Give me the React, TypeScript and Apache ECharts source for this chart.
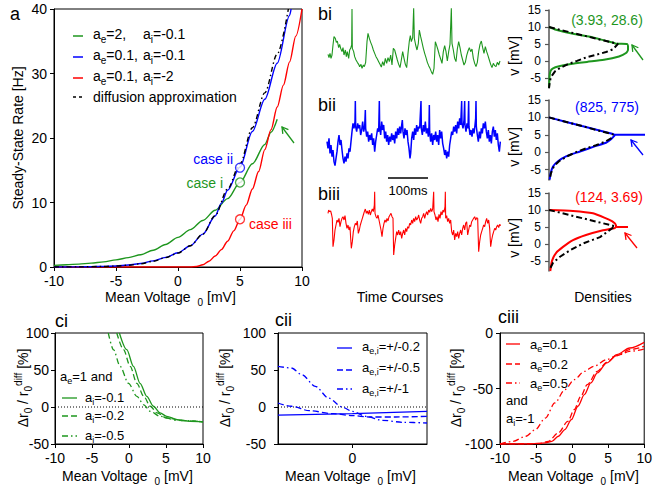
import React, { useEffect, useRef } from "react";
import * as echarts from "echarts";

const FONT = '"Liberation Sans", Arial, Helvetica, sans-serif';
const GREEN = "#1e961e";
const BLUE = "#0000ff";
const RED = "#ff0000";
const BLACK = "#000000";

// ---------- Panel a: steady-state rate [Hz] vs mean voltage [mV] ----------
const rateGreen = [[-10,0.25],[-9,0.35],[-8,0.45],[-7,0.6],[-6,0.8],[-5,1.1],[-4,1.45],[-3,1.9],[-2,2.6],[-1,3.5],[0,4.6],[1,5.8],[2,7.2],[3,8.8],[4,10.6],[5,13.1],[6,16.0],[7,19.0],[7.5,20.9],[8,22.9]];
const rateBlue = [[-10,0],[-9,0.01],[-8,0.02],[-7,0.05],[-6,0.09],[-5,0.16],[-4,0.3],[-3,0.55],[-2,0.95],[-1,1.5],[0,2.2],[1,3.3],[2,5.1],[3,7.9],[3.5,9.9],[4,11.9],[5,15.5],[6,21.0],[7,26.0],[8,31.6],[9,39.0],[9.12,40]];
const rateDiff = [[-10,0],[-8,0.02],[-6,0.08],[-5,0.15],[-4,0.28],[-3,0.5],[-2,0.9],[-1,1.45],[0,2.15],[1,3.3],[2,5.1],[3,8.0],[4,12.1],[5,16.0],[6,21.6],[7,27.0],[8,33.0],[8.9,40]];
const rateRed = [[-10,0],[0,0],[1,0],[1.5,0.08],[2,0.35],[2.5,0.9],[3,1.7],[3.5,2.7],[4,4.0],[4.5,5.6],[5,7.4],[5.5,9.6],[6,12.1],[6.5,14.8],[7,18.2],[7.5,21.3],[8,24.8],[8.5,28.2],[9,31.8],[9.5,35.8],[10,40]];
const caseI = [[5, 13.1]];
const caseII = [[5, 15.4]];
const caseIII = [[5, 7.4]];

// ---------- Panel b: time courses (sample positions; y grows downward) ----------
const traceBi = [[18,148],[21,158],[24,145],[27,160],[30,150],[33,120],[36,95],[40,100],[43,112],[46,108],[50,128],[53,118],[56,130],[60,140],[63,128],[66,150],[70,135],[73,155],[76,140],[80,160],[83,135],[86,130],[89,120],[90,12],[91,130],[95,140],[98,155],[102,165],[106,172],[110,178],[113,185],[117,178],[120,190],[124,180],[127,185],[131,172],[135,110],[138,85],[142,100],[146,112],[150,122],[154,135],[158,145],[162,155],[166,162],[170,170],[174,178],[178,186],[182,170],[186,182],[190,160],[194,175],[198,158],[202,170],[206,150],[210,180],[214,130],[218,135],[222,150],[226,165],[230,178],[234,188],[238,165],[242,140],[246,160],[250,178],[254,188],[258,145],[262,108],[265,92],[268,110],[272,98],[275,10],[277,100],[281,120],[285,135],[289,115],[292,75],[296,95],[300,112],[304,130],[308,145],[312,158],[316,172],[320,182],[324,190],[328,200],[332,208],[336,190],[340,110],[344,122],[348,135],[352,150],[356,162],[360,175],[364,140],[368,122],[372,140],[376,168],[380,140],[384,118],[388,10],[390,115],[394,135],[398,160],[402,170],[406,132],[410,110],[414,128],[418,150],[422,165],[426,180],[430,172],[434,152],[438,138],[442,128],[446,140],[450,132],[454,160],[458,175],[462,185],[466,172],[470,140],[474,118],[478,108],[482,128],[486,145],[490,125],[494,140],[498,152],[502,165],[506,178],[510,188],[514,175],[518,182],[522,185],[526,172],[530,180],[534,168]];
const traceBii = [[15,140],[18,160],[21,130],[24,175],[27,150],[30,185],[33,165],[36,200],[39,212],[42,190],[45,170],[48,140],[51,120],[54,150],[57,135],[60,165],[63,190],[66,205],[69,185],[72,200],[75,175],[78,190],[81,160],[84,170],[87,140],[90,110],[93,85],[96,100],[99,80],[100,18],[101,95],[104,110],[107,85],[110,100],[113,90],[116,120],[119,105],[122,80],[125,110],[128,95],[130,45],[131,100],[134,125],[137,110],[140,140],[143,120],[146,135],[149,115],[152,150],[155,130],[158,170],[161,140],[164,120],[167,100],[170,110],[172,18],[173,95],[176,120],[179,80],[182,105],[185,90],[188,130],[191,110],[194,140],[197,120],[200,150],[203,125],[206,140],[209,115],[212,135],[215,120],[218,145],[221,110],[224,130],[227,100],[230,120],[233,95],[236,115],[239,90],[241,75],[243,110],[246,130],[249,100],[252,120],[255,105],[258,140],[261,160],[264,190],[266,175],[269,130],[272,110],[275,135],[278,100],[281,120],[284,90],[287,110],[290,95],[293,100],[297,18],[298,100],[301,120],[304,90],[307,110],[310,80],[313,115],[316,100],[319,125],[321,95],[322,30],[323,110],[326,140],[329,115],[332,150],[335,120],[338,135],[341,110],[344,140],[347,120],[350,150],[353,105],[356,130],[359,110],[362,145],[365,160],[368,180],[371,165],[374,190],[377,170],[380,185],[383,150],[386,130],[389,110],[392,120],[395,95],[398,110],[401,90],[404,115],[407,80],[410,100],[413,70],[416,90],[419,18],[420,85],[423,100],[426,75],[428,18],[429,90],[432,110],[435,85],[438,100],[440,18],[441,95],[444,120],[447,105],[450,125],[453,100],[456,115],[459,90],[461,70],[462,18],[463,95],[466,120],[469,140],[472,110],[475,130],[478,100],[481,115],[484,85],[487,100],[490,80],[493,110],[496,130],[499,105],[502,140],[505,120],[508,145],[511,110],[514,95],[517,125],[520,105],[523,135],[526,115],[529,150],[532,170],[535,140]];
const traceBiii = [[18,85],[20,75],[23,80],[26,78],[29,90],[31,100],[33,185],[36,165],[39,135],[42,120],[45,105],[48,112],[51,100],[54,125],[57,110],[60,100],[63,95],[66,105],[69,92],[72,115],[75,130],[78,120],[81,135],[84,125],[86,160],[88,190],[91,170],[94,140],[97,125],[100,115],[103,120],[106,108],[109,145],[112,135],[115,120],[118,110],[121,100],[124,90],[127,80],[130,72],[133,85],[136,78],[139,88],[142,75],[145,90],[148,80],[151,72],[154,80],[157,60],[158,20],[159,85],[162,95],[165,100],[168,90],[171,105],[174,120],[177,135],[180,155],[183,130],[186,115],[189,105],[192,112],[195,100],[198,108],[201,95],[204,90],[207,85],[210,95],[213,100],[215,210],[218,180],[221,160],[224,140],[227,150],[230,135],[233,150],[236,140],[239,160],[242,145],[245,135],[248,150],[251,130],[254,140],[257,125],[260,130],[263,115],[266,120],[269,105],[272,115],[275,100],[278,110],[281,95],[284,105],[287,100],[290,90],[293,105],[296,115],[299,100],[302,95],[305,85],[308,100],[311,88],[314,80],[317,90],[320,75],[323,82],[326,70],[329,80],[332,72],[335,20],[336,80],[339,90],[342,105],[345,95],[348,110],[351,88],[354,100],[357,80],[360,90],[363,75],[366,82],[369,65],[370,20],[371,100],[374,92],[377,110],[380,100],[383,115],[386,105],[389,140],[392,150],[395,135],[398,165],[401,145],[404,155],[407,140],[410,160],[413,145],[416,135],[419,150],[422,130],[425,120],[428,135],[431,115],[434,110],[437,150],[440,135],[443,120],[446,125],[449,110],[452,105],[455,100],[458,95],[461,105],[464,98],[467,100],[470,200],[473,170],[476,150],[479,140],[482,130],[485,120],[488,125],[491,110],[494,100],[497,115],[500,105],[503,130],[506,185],[509,165],[512,150],[515,140],[518,130],[521,135],[524,125],[527,120],[530,128],[533,118],[536,122]];

// ---------- Panel b: densities [density, v (mV)] ----------
const densBiColor = [[0,10],[7,9.2],[24,8.0],[41,7.1],[57,5.9],[64,5.4],[67,5.05],[78,5.0],[79,4.2],[79,3.3],[77,2.3],[70,1.3],[55,0.3],[38,-0.3],[22,-0.9],[10,-1.6],[4,-2.2],[1.5,-3],[0.6,-4.5],[0,-8]];
const densBiDiff = [[0,10],[13,9],[27,8],[41,7],[55,6],[69,5],[64,3.4],[57,2.6],[47,1.8],[37,1],[28,0],[18,-1.1],[11,-2.1],[6,-3.1],[3.3,-4.2],[1.7,-5],[0.7,-6.4],[0,-8]];
const densBiiColor = [[0,10],[33,7.5],[64,5.2],[66,5],[96,5],[66,5],[65,4.6],[62,3.7],[57,2.7],[47,1.8],[31,0.2],[17,-1.2],[9,-2.6],[4,-4.1],[1.7,-6],[0.7,-7.9]];
const densBiiDiff = [[0,10],[33,7.5],[64,5.1],[62,4],[56,3],[47,2],[36,1],[27,0],[18,-1.2],[10,-2.6],[5,-4],[2,-6],[0.5,-8]];
const densBiiiColor = [[0,10],[24,9.7],[44,9.0],[57,7.5],[64,6.5],[67,5.5],[67,5.0],[79,5.0],[67,5.0],[66,4.7],[54,4],[37,2.6],[24,1.1],[14,-0.9],[7,-2.7],[3,-5],[1.3,-8]];
const densBiiiDiff = [[0,10],[66,5.2],[66,5],[51,2],[34,0.1],[21,-1.9],[11,-3.8],[4,-5.6],[0.7,-7.5]];
const densTicks = [-5, 0, 5, 10, 15];

// ---------- Panel c: relative deviation [%] vs mean voltage [mV] ----------
const ciSolid = [[-1.3,100],[-0.3,77.5],[0.6,55],[1.5,32],[2.4,14.4],[3.3,1],[4.2,-8],[5.1,-12.6],[6.5,-17],[8.3,-19.4],[10,-20]];
const ciDashed = [[-1.65,100],[-0.74,77.5],[0.16,55],[1.06,32],[2.0,14.4],[2.87,1],[3.8,-8],[5.1,-15],[7.4,-18.5],[10,-20]];
const ciDashDot = [[-2.8,100],[-2.1,77.5],[-1.2,55],[-0.07,32],[1.06,14.4],[2,3],[2.9,-6],[4.2,-12.6],[6.5,-18],[10,-20]];
const ciiSolid = [[-5,-11],[0,-9],[5,-6]];
const ciiDashed = [[-5,5.4],[-4.1,1],[-2.9,-5],[-1.3,-9],[0,-11.7],[1.1,-13.5],[2.9,-13.5],[5,-12.6]];
const ciiDashDot = [[-5,55],[-4.1,52.7],[-3.4,43.7],[-2.5,28],[-1.6,12],[-0.7,0],[0,-6],[0.9,-12.6],[2,-18],[3.4,-20.7],[5,-21.6]];
const ciiiSolid = [[-10,-100],[-6,-100],[-3.7,-99],[-2.8,-97.6],[-1.9,-93],[-1,-87],[-0.1,-78],[0.8,-66],[1.7,-55.5],[2.6,-45],[3.5,-36],[4.8,-27],[6.2,-19.5],[8,-13.5],[10,-8.4]];
const ciiiDashed = [[-10,-100],[-4.6,-99.7],[-3.3,-97.6],[-1.9,-90],[-0.6,-79.6],[0.3,-69],[1.2,-57],[2.1,-46.5],[3.5,-34.5],[4.8,-26.4],[6.2,-20.4],[8,-15],[10,-12]];
const ciiiDashDot = [[-10,-100],[-8.2,-97.6],[-6.4,-93],[-5.1,-87],[-3.7,-76.6],[-2.4,-63],[-1,-51],[0.3,-42],[1.7,-34.5],[3,-30],[4.8,-24],[6.2,-20.4],[8,-16.5],[10,-14.4]];
const zeroLineC = [[-10,0],[10,0]];
const zeroLineCii = [[-5,0],[5,0]];

const DASH = [6, 3];
const DASHDOT = [6, 3, 1.5, 3];

function rt(x: number, y: number, text: string, size: number, color: string, align = "left", rot = 0) {
  return {
    type: "text", x, y, rotation: rot, z: 100, silent: true,
    style: {
      text, align, verticalAlign: "middle", fill: color, font: `${size}px ${FONT}`,
      rich: {
        n: { fontSize: size, fontFamily: FONT, fill: color, lineHeight: Math.round(size * 1.4) },
        s: { fontSize: Math.round(size * 0.72), fontFamily: FONT, fill: color, verticalAlign: "bottom" },
        u: { fontSize: Math.round(size * 0.72), fontFamily: FONT, fill: color, verticalAlign: "top" },
        g: { width: 7, fontSize: size, fontFamily: FONT, fill: color },
      },
    },
  };
}

function seg(x1: number, y1: number, x2: number, y2: number, color: string, w = 1.3, dash: any = null) {
  return { type: "line", z: 100, silent: true, shape: { x1, y1, x2, y2 }, style: { stroke: color, lineWidth: w, lineDash: dash } };
}

function arrow(x1: number, y1: number, x2: number, y2: number, color: string) {
  const dx = x2 - x1, dy = y2 - y1, L = Math.hypot(dx, dy);
  const ux = dx / L, uy = dy / L, hl = 6, hw = 3.5;
  const bx = x2 - ux * hl, by = y2 - uy * hl;
  return [
    seg(x1, y1, x2, y2, color, 1.3),
    { type: "polyline", z: 100, silent: true, shape: { points: [[bx - uy * hw, by + ux * hw], [x2, y2], [bx + uy * hw, by - ux * hw]] }, style: { stroke: color, lineWidth: 1.3, fill: "none" } },
  ];
}

const axisCommon = (size: number, margin: number) => ({
  axisLine: { show: true, onZero: false, lineStyle: { color: BLACK, width: 1 } },
  axisTick: { show: true, inside: false, length: 4, lineStyle: { color: BLACK, width: 1 } },
  axisLabel: { color: BLACK, fontSize: size, fontFamily: FONT, margin },
  splitLine: { show: false },
});

export default function App() {
  const ref = useRef<HTMLDivElement>(null);
  useEffect(() => {
    if (!ref.current) return;
    const chart = echarts.init(ref.current, null, { renderer: "svg" });

    const boxed = { show: true, borderColor: BLACK, borderWidth: 1, backgroundColor: "transparent", containLabel: false };
    const grid = [
      { left: 54, top: 9, width: 248, height: 258, ...boxed },
      { left: 322, top: 5, width: 185, height: 72 },
      { left: 322, top: 95, width: 185, height: 75 },
      { left: 322, top: 185, width: 185, height: 80 },
      { left: 549, top: 10, width: 100, height: 78 },
      { left: 549, top: 100, width: 100, height: 80 },
      { left: 549, top: 193, width: 100, height: 78 },
      { left: 55, top: 333, width: 148, height: 111, ...boxed },
      { left: 278, top: 333, width: 149, height: 111, ...boxed },
      { left: 500, top: 333, width: 148, height: 111, ...boxed },
    ];

    const densY = (gi: number) => ({
      gridIndex: gi, type: "value", min: -8, max: 15,
      axisLine: { show: true, onZero: false, lineStyle: { color: "#555", width: 1.5 } },
      axisTick: { show: true, inside: false, length: 4, customValues: densTicks, lineStyle: { color: "#555", width: 1.2 } },
      axisLabel: { color: BLACK, fontSize: 12, fontFamily: FONT, margin: 8, customValues: densTicks },
      splitLine: { show: false },
    });
    const hidden = (gi: number, min: number, max: number, inverse = false) => ({ gridIndex: gi, type: "value", min, max, inverse, show: false });

    const xAxis = [
      { gridIndex: 0, type: "value", min: -10, max: 10, interval: 5, ...axisCommon(14, 7) },
      hidden(1, 0, 555), hidden(2, 0, 555), hidden(3, 0, 555),
      hidden(4, 0, 100), hidden(5, 0, 100), hidden(6, 0, 100),
      { gridIndex: 7, type: "value", min: -10, max: 10, interval: 5, ...axisCommon(14, 7) },
      { gridIndex: 8, type: "value", min: -5, max: 5, ...axisCommon(14, 7),
        axisTick: { show: true, inside: false, length: 4, customValues: [0], lineStyle: { color: BLACK } },
        axisLabel: { color: BLACK, fontSize: 14, fontFamily: FONT, margin: 7, customValues: [0] } },
      { gridIndex: 9, type: "value", min: -10, max: 10, interval: 5, ...axisCommon(14, 7) },
    ];
    const yAxis = [
      { gridIndex: 0, type: "value", min: 0, max: 40, interval: 10, ...axisCommon(14, 7) },
      hidden(1, 0, 216, true), hidden(2, 0, 225, true), hidden(3, 0, 240, true),
      densY(4), densY(5), densY(6),
      { gridIndex: 7, type: "value", min: -50, max: 100, interval: 50, ...axisCommon(14, 6) },
      { gridIndex: 8, type: "value", min: -50, max: 100, interval: 50, ...axisCommon(14, 12) },
      { gridIndex: 9, type: "value", min: -100, max: 0, interval: 50, ...axisCommon(14, 7) },
    ];

    const L = (gi: number, data: any, color: string, width: number, type: any = "solid", extra: any = {}) => ({
      type: "line", xAxisIndex: gi, yAxisIndex: gi, data, symbol: "none", silent: true,
      lineStyle: { color, width, type }, itemStyle: { color }, z: 3, ...extra,
    });
    const circ = (data: any, color: string) => ({
      type: "scatter", xAxisIndex: 0, yAxisIndex: 0, data, symbol: "circle", symbolSize: 9, silent: true, z: 5,
      itemStyle: { color: "#ffffff", borderColor: color, borderWidth: 1.3 },
    });

    const series = [
      L(0, rateGreen, GREEN, 1.4, "solid", { smooth: 0.3, smoothMonotone: "x" }),
      L(0, rateRed, RED, 1.4, "solid", { smooth: 0.3, smoothMonotone: "x" }),
      L(0, rateBlue, BLUE, 1.4, "solid", { smooth: 0.3, smoothMonotone: "x" }),
      L(0, rateDiff, BLACK, 1.4, [5, 3, 1.5, 3], { smooth: 0.3, smoothMonotone: "x", z: 4 }),
      circ(caseI, GREEN), circ(caseII, BLUE), circ(caseIII, RED),
      L(1, traceBi, GREEN, 1.1),
      L(2, traceBii, BLUE, 1.5),
      L(3, traceBiii, RED, 1.1),
      L(4, densBiColor, GREEN, 2, "solid", { smooth: 0.2 }),
      L(4, densBiDiff, BLACK, 2, [6, 3, 2, 3], { z: 4 }),
      L(5, densBiiColor, BLUE, 2, "solid", { smooth: 0.2 }),
      L(5, densBiiDiff, BLACK, 2, [6, 3, 2, 3], { z: 4 }),
      L(6, densBiiiColor, RED, 2, "solid", { smooth: 0.2 }),
      L(6, densBiiiDiff, BLACK, 2, [6, 3, 2, 3], { z: 4 }),
      L(7, zeroLineC, BLACK, 1, [1, 2], { z: 2 }),
      L(7, ciSolid, GREEN, 1.3, "solid", { smooth: 0.3, smoothMonotone: "x" }),
      L(7, ciDashed, GREEN, 1.3, DASH, { smooth: 0.3, smoothMonotone: "x" }),
      L(7, ciDashDot, GREEN, 1.3, DASHDOT, { smooth: 0.3, smoothMonotone: "x" }),
      L(8, zeroLineCii, BLACK, 1, [1, 2], { z: 2 }),
      L(8, ciiSolid, BLUE, 1.3),
      L(8, ciiDashed, BLUE, 1.3, DASH, { smooth: 0.3, smoothMonotone: "x" }),
      L(8, ciiDashDot, BLUE, 1.3, DASHDOT, { smooth: 0.3, smoothMonotone: "x" }),
      L(9, ciiiSolid, RED, 1.3, "solid", { smooth: 0.3, smoothMonotone: "x" }),
      L(9, ciiiDashed, RED, 1.3, DASH, { smooth: 0.3, smoothMonotone: "x" }),
      L(9, ciiiDashDot, RED, 1.3, DASHDOT, { smooth: 0.3, smoothMonotone: "x" }),
    ];

    const mv = "{n|Mean Voltage}{g| }{s|0}{n| [mV]}";
    const dr = "{n|Δr}{s|0}{n| / r}{s|0}{u|diff}{n| [%]}";
    const graphic: any[] = [
      // panel letters
      rt(10, 14, "a", 18, BLACK),
      rt(318, 14, "bi", 18, BLACK),
      rt(318, 105, "bii", 18, BLACK),
      rt(318, 194, "biii", 18, BLACK),
      rt(55, 321, "ci", 18, BLACK),
      rt(275, 320, "cii", 18, BLACK),
      rt(498, 317, "ciii", 18, BLACK),
      // panel a titles
      rt(18, 138, "Steady-State Rate [Hz]", 14, BLACK, "center", Math.PI / 2),
      rt(105, 297, mv, 14, BLACK),
      // panel a legend
      seg(73, 36, 83, 36, GREEN, 1.5), rt(93, 34, "{n|a}{s|e}{n|=2,}", 14, BLACK), rt(143, 34, "{n|a}{s|i}{n|=-0.1}", 14, BLACK),
      seg(73, 57, 83, 57, BLUE, 1.5), rt(93, 55, "{n|a}{s|e}{n|=0.1,}", 14, BLACK), rt(143, 55, "{n|a}{s|i}{n|=-0.1}", 14, BLACK),
      seg(73, 78, 83, 78, RED, 1.5), rt(93, 76, "{n|a}{s|e}{n|=0.1,}", 14, BLACK), rt(143, 76, "{n|a}{s|i}{n|=-2}", 14, BLACK),
      seg(73, 97, 83, 97, BLACK, 1.5, [3, 3]), rt(93, 97, "diffusion approximation", 14, BLACK),
      // case labels
      rt(233, 159, "case ii", 14, BLUE, "right"),
      rt(223, 183, "case i", 14, GREEN, "right"),
      rt(249, 224, "case iii", 14, RED, "left"),
      ...arrow(294, 143, 282, 127, GREEN),
      // panel b
      seg(388, 178, 428, 178, BLACK, 1.5),
      rt(408, 190, "100ms", 13, BLACK, "center"),
      rt(400, 297, "Time Courses", 14, BLACK, "center"),
      rt(603, 297, "Densities", 14, BLACK, "center"),
      rt(514, 56, "v [mV]", 14, BLACK, "center", Math.PI / 2),
      rt(514, 147, "v [mV]", 14, BLACK, "center", Math.PI / 2),
      rt(514, 238, "v [mV]", 14, BLACK, "center", Math.PI / 2),
      rt(607, 20, "(3.93, 28.6)", 14, GREEN, "center"),
      rt(607, 107, "(825, 775)", 14, BLUE, "center"),
      rt(609, 197, "(124, 3.69)", 14, RED, "center"),
      ...arrow(643, 60, 632, 45, GREEN),
      ...arrow(643, 155, 631, 140, BLUE),
      ...arrow(637, 248, 625, 233, RED),
      // panel c titles
      rt(23, 388, dr, 14, BLACK, "center", Math.PI / 2),
      rt(225, 388, dr, 14, BLACK, "center", Math.PI / 2),
      rt(456, 388, dr, 14, BLACK, "center", Math.PI / 2),
      rt(62, 476, mv, 14, BLACK),
      rt(285, 476, mv, 14, BLACK),
      rt(508, 476, mv, 14, BLACK),
      // ci legend
      rt(60, 376, "{n|a}{s|e}{n|=1 and}", 13, BLACK),
      seg(62, 398, 77, 398, GREEN, 1.3), rt(85, 397, "{n|a}{s|i}{n|=-0.1}", 13, BLACK),
      seg(62, 416, 77, 416, GREEN, 1.3, DASH), rt(85, 415, "{n|a}{s|i}{n|=-0.2}", 13, BLACK),
      seg(62, 436, 77, 436, GREEN, 1.3, DASHDOT), rt(85, 435, "{n|a}{s|i}{n|=-0.5}", 13, BLACK),
      // cii legend
      seg(337, 348, 352, 348, BLUE, 1.3), rt(362, 346, "{n|a}{s|e,i}{n|=+/-0.2}", 13, BLACK),
      seg(337, 370, 352, 370, BLUE, 1.3, DASH), rt(362, 367, "{n|a}{s|e,i}{n|=+/-0.5}", 13, BLACK),
      seg(337, 389, 352, 389, BLUE, 1.3, DASHDOT), rt(362, 388, "{n|a}{s|e,i}{n|=+/-1}", 13, BLACK),
      // ciii legend
      seg(506, 344, 520, 344, RED, 1.3), rt(530, 344, "{n|a}{s|e}{n|=0.1}", 13, BLACK),
      seg(506, 364, 520, 364, RED, 1.3, DASH), rt(530, 364, "{n|a}{s|e}{n|=0.2}", 13, BLACK),
      seg(506, 383, 520, 383, RED, 1.3, DASHDOT), rt(530, 383, "{n|a}{s|e}{n|=0.5}", 13, BLACK),
      rt(506, 400, "and", 13, BLACK),
      rt(506, 418, "{n|a}{s|i}{n|=-1}", 13, BLACK),
    ];

    chart.setOption({
      animation: false,
      backgroundColor: "#ffffff",
      textStyle: { fontFamily: FONT },
      grid, xAxis, yAxis, series, graphic,
    });
    return () => chart.dispose();
  }, []);
  return <div ref={ref} style={{ position: "fixed", left: 0, top: 0, width: 655, height: 492 }} />;
}
